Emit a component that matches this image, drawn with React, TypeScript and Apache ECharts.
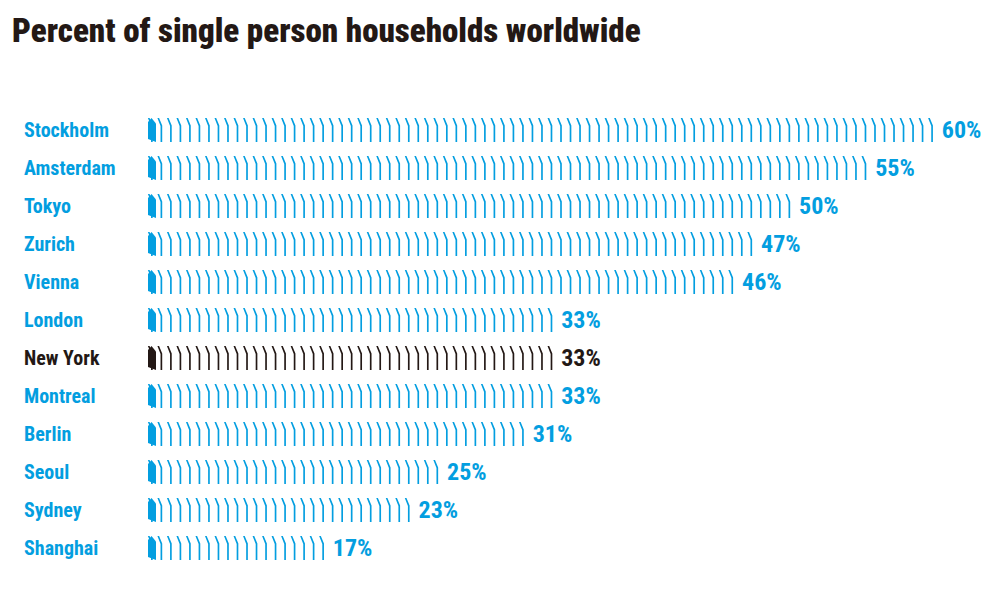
import React, { useEffect, useRef } from "react";
import * as echarts from "echarts";

const cities = ["Stockholm", "Amsterdam", "Tokyo", "Zurich", "Vienna", "London", "New York", "Montreal", "Berlin", "Seoul", "Sydney", "Shanghai"];
const values = [60, 55, 50, 47, 46, 33, 33, 33, 31, 25, 23, 17];
const highlight = "New York";

const BLUE = "#039ee0";
const DARK = "#231815";
const FONT = "'Roboto Condensed', 'Open Sans Condensed', sans-serif";

const strokePath = "path://M0 0 L1.6 0 L4.6 7.5 L4.6 24 L3 24 L3 8 Z";
const coverPath = "path://M0 4 L3.5 0 L8 5.5 L8 24 L0 21 Z";

export default function App() {
  const ref = useRef<HTMLDivElement>(null);
  useEffect(() => {
    if (!ref.current) return;
    const chart = echarts.init(ref.current, undefined, { renderer: "svg" });
    const colorOf = (name: string) => (name === highlight ? DARK : BLUE);
    chart.setOption({
      animation: false,
      backgroundColor: "#ffffff",
      title: {
        text: "Percent of single person households worldwide",
        left: 12,
        top: 14,
        padding: 0,
        textStyle: { fontFamily: FONT, fontWeight: 900, fontSize: 33, color: DARK },
      },
      grid: { left: 148, right: 43, top: 111, bottom: 23 },
      xAxis: {
        type: "value",
        min: 5,
        max: 62,
        startValue: 5,
        show: false,
        splitLine: { show: false },
      },
      yAxis: {
        type: "category",
        data: cities,
        inverse: true,
        axisLine: { show: false },
        axisTick: { show: false },
        axisLabel: {
          margin: 124,
          align: "left",
          fontFamily: FONT,
          fontWeight: "bold",
          fontSize: 20,
          formatter: (v: string) => (v === highlight ? `{k|${v}}` : `{b|${v}}`),
          rich: {
            b: { color: BLUE, fontFamily: FONT, fontWeight: "bold", fontSize: 20 },
            k: { color: DARK, fontFamily: FONT, fontWeight: "bold", fontSize: 20 },
          },
        },
      },
      series: [
        {
          type: "pictorialBar",
          barWidth: 24,
          barGap: "-100%",
          symbol: strokePath,
          symbolSize: [4.6, 24],
          symbolRepeat: true,
          symbolMargin: 2.5,
          symbolClip: false,
          data: values.map((v, i) => ({
            value: v,
            itemStyle: { color: colorOf(cities[i]) },
            label: { color: colorOf(cities[i]) },
          })),
          label: {
            show: true,
            position: "right",
            distance: 9,
            formatter: "{c}%",
            fontFamily: FONT,
            fontWeight: "bold",
            fontSize: 24,
          },
          z: 2,
        },
        {
          type: "pictorialBar",
          barWidth: 24,
          barGap: "-100%",
          symbol: coverPath,
          symbolSize: [8, 24],
          symbolPosition: "start",
          symbolRepeat: false,
          data: values.map((v, i) => ({
            value: v,
            itemStyle: { color: colorOf(cities[i]) },
          })),
          z: 3,
        },
      ],
    });
    return () => chart.dispose();
  }, []);
  return <div ref={ref} style={{ position: "fixed", left: 0, top: 0, width: 1000, height: 590 }} />;
}
